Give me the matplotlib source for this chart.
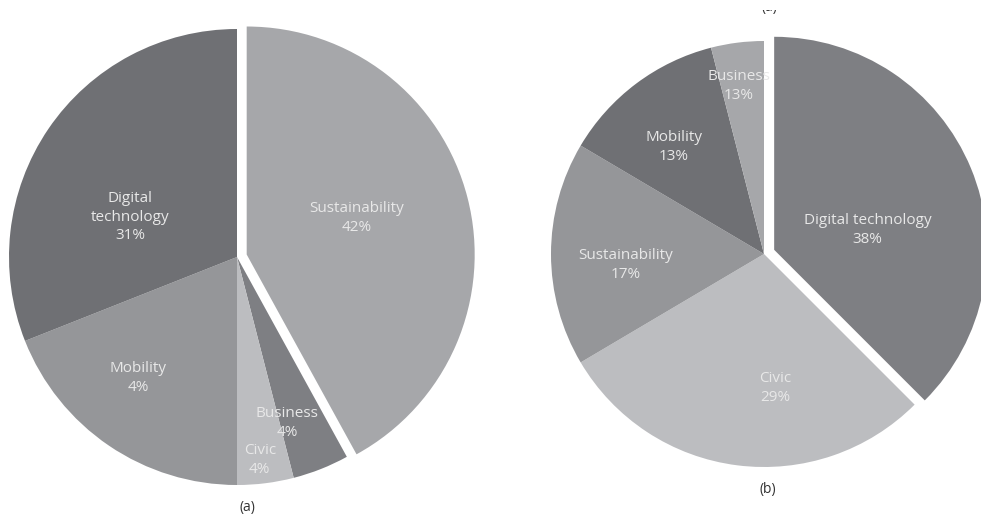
import matplotlib.pyplot as plt
from matplotlib.transforms import Bbox, TransformedBbox

# pie (a)
cats_a = ["Sustainability", "Business", "Civic", "Mobility", "Digital\ntechnology"]
shares_a = [42, 4, 4, 19, 31]
pct_a = ["42%", "4%", "4%", "4%", "31%"]
# pie (b)
cats_b = ["Digital technology", "Civic", "Sustainability", "Mobility", "Business"]
shares_b = [37.5, 29, 17, 12.5, 4]
pct_b = ["38%", "29%", "17%", "13%", "13%"]

# colori dei settori
cols_a = ["#a6a7aa", "#7e7f83", "#bcbdc0", "#959699", "#6f7074"]
cols_b = ["#7e7f83", "#bcbdc0", "#959699", "#6f7074", "#a6a7aa"]

# posizione etichette (frazione del raggio, rispetto al centro)
lab_a = [(0.526, 0.171), (0.219, -0.728), (0.10, -0.89), (-0.434, -0.531), (-0.469, 0.175)]
lab_b = [(0.487, 0.113), (0.052, -0.629), (-0.648, -0.052), (-0.423, 0.502), (-0.117, 0.789)]

W, H = 981, 517
fig = plt.figure(figsize=(W / 100, H / 100), dpi=100)
ax = fig.add_axes([0, 0, 1, 1])

txt = dict(color="#e8e8e8", fontsize=11, family="Open Sans",
           ha="center", va="center", linespacing=1.3)


def torta(shares, cols, cats, pct, labs, c, r, expl):
    # explode in unita' dati (pixel)
    ax.pie(shares, colors=cols, startangle=90, counterclock=False,
           center=c, radius=r, explode=[expl] + [0] * (len(shares) - 1),
           wedgeprops=dict(linewidth=0), frame=True)
    for name, p, (fx, fy) in zip(cats, pct, labs):
        ax.text(c[0] + fx * r, c[1] + fy * r, name + "\n" + p, **txt)


torta(shares_a, cols_a, cats_a, pct_a, lab_a, (237, H - 257), 228, 10)
torta(shares_b, cols_b, cats_b, pct_b, lab_b, (764, H - 254), 213, 11)

ax.set_xlim(0, W)
ax.set_ylim(0, H)
ax.set_aspect("equal")
ax.axis("off")

ax.text(247, H - 508, "(a)", color="#333333", fontsize=10, family="Open Sans",
        ha="center", va="center")
ax.text(768, H - 490, "(b)", color="#333333", fontsize=10, family="Open Sans",
        ha="center", va="center")

# didascalia tagliata in alto
t = fig.text(769 / W, 1 - 15 / H, "(a)", color="#333333", fontsize=10,
             family="Open Sans", ha="center", va="bottom")
t.set_clip_box(TransformedBbox(Bbox([[0, 0], [1, 1 - 10 / H]]), fig.transFigure))

fig.savefig("out.png", dpi=100)
